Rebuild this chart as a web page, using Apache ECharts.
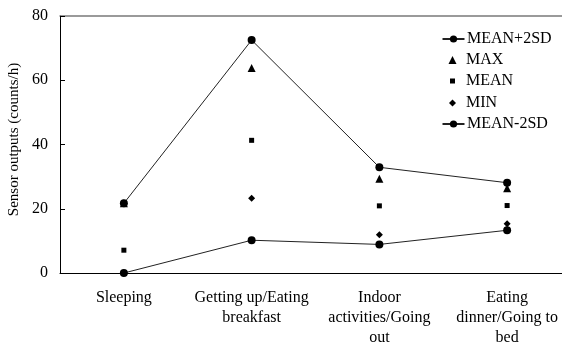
<!DOCTYPE html>
<html>
<head>
<meta charset="utf-8">
<script src="https://cdn.jsdelivr.net/npm/echarts@6/dist/echarts.min.js"></script>
<style>
  html, body { margin: 0; padding: 0; background: #fff; }
  #chart { width: 562px; height: 343px; }
</style>
</head>
<body>
<div id="chart"></div>
<script>
// Activity periods (x categories)
const categories = [
  'Sleeping',
  'Getting up/Eating\nbreakfast',
  'Indoor\nactivities/Going\nout',
  'Eating\ndinner/Going to\nbed'
];

// Sensor outputs per period (counts/h)
const meanPlus2SD  = [21.7, 72.5, 32.9, 28.1];
const maxValues    = [21.7, 63.8, 29.3, 26.4];
const meanValues   = [7.1, 41.3, 20.9, 21.0];
const minValues    = [0, 23.3, 11.9, 15.3];
const meanMinus2SD = [0, 10.2, 8.9, 13.3];

const yTicks = { min: 0, max: 80, interval: 20 };

const FONT = "'Liberation Serif', 'Times New Roman', serif";
const INK = '#000';

// One legend block per entry so each marker keeps its own size.
// Icons are centred on ICON_X and every label starts at TEXT_X.
const ICON_X = 452.5;
const TEXT_X = 466;
const legendRows = [
  { name: 'MEAN+2SD', w: 22, h: 9, top: 31 },
  { name: 'MAX',      w: 8,  h: 8, top: 52 },
  { name: 'MEAN',     w: 5,  h: 5, top: 73 },
  { name: 'MIN',      w: 7,  h: 7, top: 95 },
  { name: 'MEAN-2SD', w: 22, h: 9, top: 116 }
];

const legends = legendRows.map(row => {
  const left = ICON_X - row.w / 2;
  const gap = TEXT_X - (left + row.w + 5);
  return {
    orient: 'vertical',
    left: left,
    top: row.top,
    padding: 0,
    itemWidth: row.w,
    itemHeight: row.h,
    textStyle: {
      fontFamily: FONT, fontSize: 16, color: INK, lineHeight: 16,
      padding: [0, 0, 0, gap]
    },
    data: [row.name]
  };
});

const scatterBase = {
  type: 'scatter',
  itemStyle: { color: INK, opacity: 1 }
};

const chart = echarts.init(document.getElementById('chart'), null, { renderer: 'canvas' });

chart.setOption({
  animation: false,
  backgroundColor: '#fff',
  textStyle: { fontFamily: FONT, color: INK },
  // The plot runs slightly past the right edge of the canvas; keep the grid fixed
  grid: {
    left: 60, top: 16, width: 511, height: 257,
    containLabel: false,
    outerBoundsMode: 'none'
  },
  legend: legends,
  xAxis: [
    {
      type: 'category',
      data: categories,
      position: 'bottom',
      boundaryGap: true,
      axisLine: { lineStyle: { color: INK, width: 1 } },
      axisTick: { inside: true, length: 4, lineStyle: { color: INK } },
      axisLabel: {
        interval: 0,
        margin: 15,
        fontFamily: FONT,
        fontSize: 16,
        lineHeight: 20,
        color: INK
      },
      splitLine: { show: false }
    },
    {
      type: 'category',
      data: categories,
      position: 'top',
      axisLine: { lineStyle: { color: '#7a7a7a', width: 1.5 } },
      axisTick: { show: false },
      axisLabel: { show: false },
      splitLine: { show: false }
    }
  ],
  yAxis: {
    type: 'value',
    min: yTicks.min,
    max: yTicks.max,
    interval: yTicks.interval,
    name: 'Sensor outputs (counts/h)',
    nameLocation: 'middle',
    nameGap: 27,
    nameRotate: 90,
    nameTextStyle: { fontFamily: FONT, fontSize: 15, color: INK, padding: [0, 0, 0, 10] },
    axisLine: { show: true, lineStyle: { color: INK, width: 1 } },
    axisTick: { show: true, inside: true, length: 5, lineStyle: { color: INK } },
    axisLabel: { margin: 12, fontFamily: FONT, fontSize: 16, color: INK },
    splitLine: { show: false }
  },
  series: [
    Object.assign({}, scatterBase, { name: 'MAX',  data: maxValues,  symbol: 'triangle', symbolSize: 8 }),
    Object.assign({}, scatterBase, { name: 'MEAN', data: meanValues, symbol: 'rect',     symbolSize: 5 }),
    Object.assign({}, scatterBase, { name: 'MIN',  data: minValues,  symbol: 'diamond',  symbolSize: 7 }),
    {
      name: 'MEAN+2SD',
      type: 'line',
      data: meanPlus2SD,
      symbol: 'circle',
      symbolSize: 8,
      lineStyle: { color: '#222', width: 1 },
      itemStyle: { color: INK, borderWidth: 0 }
    },
    {
      name: 'MEAN-2SD',
      type: 'line',
      data: meanMinus2SD,
      symbol: 'circle',
      symbolSize: 8,
      lineStyle: { color: '#222', width: 1 },
      itemStyle: { color: INK, borderWidth: 0 }
    }
  ]
});
</script>
</body>
</html>
